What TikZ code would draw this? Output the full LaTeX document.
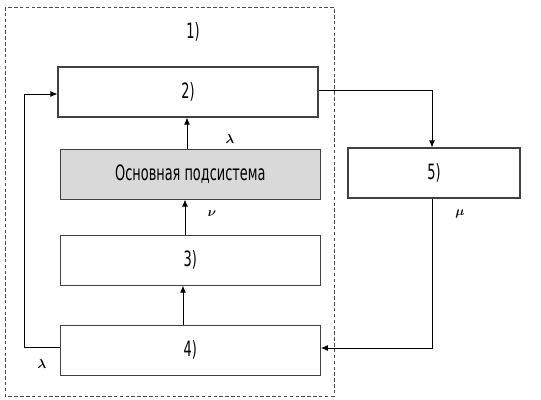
\documentclass[tikz,border=0pt]{standalone}
\usepackage{fontspec}
\usepackage{amsmath}
\setmainfont[FakeStretch=0.68]{DejaVu Sans Condensed}
\usetikzlibrary{positioning}
\usetikzlibrary{arrows.meta}
\newcommand{\Lrate}{\boldsymbol{\lambda}}
\newcommand{\Nrate}{\boldsymbol{\nu}}
\newcommand{\Mrate}{\boldsymbol{\mu}}
\tikzstyle{blk} = [rectangle,draw=black!75,line width=0.9pt,minimum width=7.8cm,minimum height=1.5cm,inner sep=0pt,font=\fontsize{18}{18}\selectfont]
\tikzstyle{core} = [blk,fill=black!15]
\tikzstyle{flow} = [-{Latex[length=6pt,width=5pt]},line width=0.7pt]
\tikzstyle{rate} = [font=\fontsize{11}{11}\selectfont]

\begin{document}
\begin{tikzpicture}[x=0.03cm,y=-0.03cm]
\useasboundingbox (0,0) rectangle (541,400);

% Define nodes
\node[blk]                                    (two)  at (188,92) {2)};
\node[core, below = 0.93cm of two, xshift=2pt] (main) {Основная подсистема};
\node[blk,  below = 1.05cm of main]           (three) {3)};
\node[blk,  below = 1.17cm of three]          (four)  {4)};
\node[blk,  minimum width=5.16cm]             (five)  at (434,173) {5)};
\node[font=\fontsize{18}{18}\selectfont]      (one)   at (193,32) {1)};

\coordinate (bend2)  at (432,90);
\coordinate (bend5)  at (432,348);
\coordinate (bend4)  at (24,347);
\coordinate (bendin) at (24,94);

% Edges
\draw[flow] (main.north -| 187,0) -- (two.south -| 187,0);
\draw[flow] (three.north -| 185,0) -- (main.south -| 185,0);
\draw[flow] (four.north -| 183,0) -- (three.south -| 183,0);
\draw[flow] (two.east |- bend2) -- (bend2) -- (five.north -| bend2);
\draw[flow] (five.south -| bend5) -- (bend5) -- (four.east |- bend5);
\draw[flow] (four.west |- bend4) -- (bend4) -- (bendin) -- (two.west |- bendin);

% Rates
\node[rate] (lamtop) at (230,139) {$\Lrate$};
\node[rate] (nu)     at (212,214) {$\Nrate$};
\node[rate] (mu)     at (460,214) {$\Mrate$};
\node[rate] (lambot) at (42,364)  {$\Lrate$};

% Frame
\draw[dash pattern=on 3pt off 2pt, draw=black!70, line width=0.7pt] (5,7) rectangle (334,396);
\end{tikzpicture}
\end{document}
